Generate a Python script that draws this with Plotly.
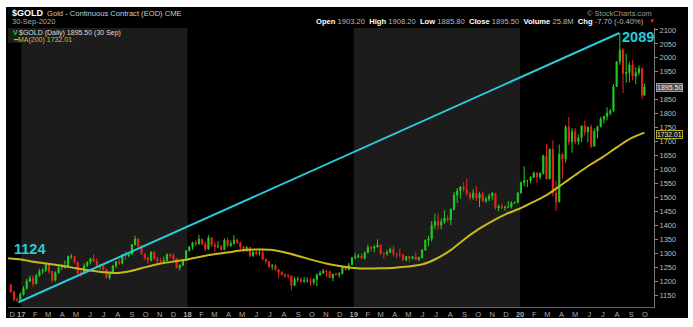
import pandas as pd
import plotly.graph_objects as go

# ---------------- data (weekly bars) ----------------
first_open = 1186
week_dates = list(pd.date_range("2016-12-09", "2020-09-25", freq="7D")) + [pd.Timestamp("2020-09-30")]

close_2016 = [1162, 1134, 1132, 1152]
high_2016 = [1190, 1165, 1141, 1160]
low_2016 = [1158, 1127, 1124, 1128]

close_2017 = [1173, 1200, 1210, 1191, 1220, 1235, 1239, 1258, 1234, 1203, 1230, 1249, 1249, 1254, 1288, 1289,
              1268, 1228, 1228, 1254, 1268, 1280, 1271, 1256, 1257, 1242, 1212, 1228, 1255, 1269, 1264, 1294,
              1291, 1297, 1330, 1351, 1325, 1297, 1284, 1275, 1304, 1280, 1272, 1270, 1274, 1296, 1292, 1280,
              1248, 1257, 1275, 1309]
high_2017 = [1182, 1208, 1219, 1220, 1226, 1244, 1246, 1264, 1263, 1236, 1235, 1259, 1260, 1274, 1292, 1297,
             1290, 1270, 1236, 1264, 1270, 1283, 1296, 1282, 1260, 1260, 1245, 1232, 1257, 1272, 1279, 1296,
             1306, 1300, 1333, 1362, 1352, 1331, 1300, 1285, 1306, 1307, 1286, 1284, 1288, 1299, 1297, 1300,
             1282, 1259, 1278, 1310]
low_2017 = [1148, 1170, 1196, 1180, 1188, 1215, 1225, 1232, 1226, 1195, 1198, 1227, 1240, 1245, 1252, 1278,
            1262, 1225, 1214, 1226, 1250, 1260, 1268, 1252, 1240, 1237, 1210, 1205, 1225, 1247, 1258, 1260,
            1276, 1285, 1294, 1328, 1318, 1293, 1276, 1262, 1270, 1277, 1264, 1264, 1268, 1270, 1281, 1274,
            1245, 1238, 1254, 1273]

close_2018 = [1322, 1338, 1333, 1350, 1333, 1315, 1355, 1330, 1323, 1324, 1313, 1347, 1327, 1335, 1347, 1338,
              1323, 1314, 1320, 1291, 1304, 1298, 1302, 1278, 1270, 1253, 1255, 1241, 1231, 1223, 1220, 1219,
              1184, 1206, 1206, 1199, 1201, 1201, 1196, 1206, 1222, 1229, 1236, 1234, 1212, 1225, 1223, 1226,
              1252, 1241, 1258, 1283]
high_2018 = [1326, 1341, 1346, 1366, 1352, 1342, 1364, 1357, 1340, 1343, 1330, 1353, 1356, 1345, 1365, 1353,
             1340, 1324, 1326, 1321, 1307, 1308, 1309, 1313, 1281, 1272, 1262, 1260, 1243, 1236, 1227, 1226,
             1220, 1215, 1216, 1213, 1215, 1213, 1210, 1210, 1228, 1237, 1244, 1241, 1238, 1226, 1230, 1232,
             1254, 1255, 1265, 1287]
low_2018 = [1306, 1312, 1325, 1330, 1330, 1307, 1312, 1322, 1303, 1318, 1309, 1310, 1322, 1322, 1330, 1332,
            1314, 1302, 1304, 1285, 1286, 1293, 1291, 1276, 1262, 1245, 1239, 1237, 1211, 1220, 1211, 1209,
            1167, 1182, 1197, 1195, 1194, 1195, 1183, 1187, 1182, 1220, 1225, 1216, 1209, 1199, 1218, 1212,
            1226, 1238, 1238, 1258]

close_2019 = [1286, 1290, 1282, 1302, 1320, 1318, 1322, 1329, 1299, 1298, 1303, 1314, 1298, 1295, 1295, 1276,
              1288, 1281, 1287, 1277, 1284, 1311, 1346, 1352, 1400, 1413, 1400, 1412, 1426, 1419, 1457, 1508,
              1523, 1537, 1529, 1515, 1499, 1515, 1497, 1512, 1488, 1494, 1505, 1514, 1462, 1468, 1463, 1465,
              1465, 1481, 1481, 1515]
high_2019 = [1301, 1297, 1299, 1305, 1331, 1325, 1328, 1349, 1333, 1303, 1312, 1320, 1326, 1300, 1316, 1295,
             1290, 1290, 1290, 1303, 1288, 1314, 1349, 1362, 1415, 1442, 1442, 1424, 1453, 1436, 1460, 1519,
             1534, 1541, 1554, 1566, 1518, 1529, 1541, 1520, 1521, 1503, 1513, 1519, 1515, 1474, 1477, 1470,
             1486, 1486, 1486, 1520]
low_2019 = [1278, 1281, 1280, 1276, 1300, 1305, 1303, 1320, 1294, 1281, 1291, 1300, 1288, 1283, 1287, 1273,
            1270, 1267, 1277, 1275, 1271, 1280, 1309, 1325, 1342, 1385, 1384, 1385, 1405, 1412, 1400, 1453,
            1480, 1496, 1520, 1506, 1488, 1491, 1488, 1465, 1484, 1480, 1486, 1490, 1456, 1450, 1457, 1452,
            1461, 1460, 1476, 1480]

close_2020 = [1553, 1560, 1560, 1571, 1587, 1573, 1586, 1649, 1566, 1672, 1516, 1484, 1654, 1637, 1752, 1699,
              1735, 1700, 1713, 1756, 1735, 1751, 1683, 1737, 1753, 1781, 1790, 1802, 1810, 1897, 1986, 2028,
              1944, 1947, 1975, 1934, 1947, 1962, 1866, 1895.5]
high_2020 = [1557, 1611, 1562, 1576, 1593, 1590, 1589, 1653, 1691, 1676, 1704, 1560, 1689, 1660, 1759, 1788,
             1748, 1748, 1725, 1758, 1775, 1753, 1761, 1747, 1757, 1789, 1793, 1823, 1818, 1906, 1986, 2089,
             2035, 2015, 1986, 1992, 1966, 1973, 1966, 1908]
low_2020 = [1515, 1540, 1537, 1550, 1570, 1552, 1564, 1582, 1565, 1566, 1504, 1451, 1482, 1567, 1625, 1687,
            1660, 1691, 1688, 1697, 1722, 1698, 1677, 1683, 1712, 1751, 1765, 1776, 1794, 1807, 1898, 1975,
            1874, 1911, 1912, 1919, 1906, 1937, 1851, 1863]

closes = close_2016 + close_2017 + close_2018 + close_2019 + close_2020
highs = high_2016 + high_2017 + high_2018 + high_2019 + high_2020
lows = low_2016 + low_2017 + low_2018 + low_2019 + low_2020
opens = [first_open] + closes[:-1]

# 200-day moving average
ma_dates = ["2016-12-03", "2017-01-01", "2017-02-01", "2017-03-01", "2017-04-01", "2017-05-01", "2017-06-01",
            "2017-07-01", "2017-08-01", "2017-09-01", "2017-10-01", "2017-11-01", "2017-12-01", "2018-01-01",
            "2018-02-01", "2018-03-01", "2018-04-01", "2018-05-01", "2018-06-01", "2018-07-01", "2018-08-01",
            "2018-09-01", "2018-10-01", "2018-11-01", "2018-12-01", "2019-01-01", "2019-02-01", "2019-03-01",
            "2019-04-01", "2019-05-01", "2019-06-01", "2019-07-01", "2019-08-01", "2019-09-01", "2019-10-01",
            "2019-11-01", "2019-12-01", "2020-01-01", "2020-02-01", "2020-03-01", "2020-04-01", "2020-05-01",
            "2020-06-01", "2020-07-01", "2020-08-01", "2020-09-01", "2020-09-30"]
ma_values = [1282, 1277, 1268, 1262, 1255, 1246, 1238, 1232, 1229, 1237, 1250, 1262, 1270, 1277,
             1288, 1296, 1303, 1310, 1313, 1312, 1303, 1290, 1276, 1263, 1254, 1247, 1245, 1246,
             1248, 1252, 1260, 1280, 1310, 1350, 1385, 1415, 1440, 1460, 1485, 1510, 1545, 1580,
             1615, 1645, 1680, 1712, 1732.01]

trend_dates = ["2016-12-26", "2020-08-06"]
trend_values = [1124, 2089]

shaded_years = [("2017-01-01", "2018-01-01"), ("2019-01-01", "2020-01-01")]

# 1900 is hidden behind the last-price tag in the reference
y_ticks = [1150, 1200, 1250, 1300, 1350, 1400, 1450, 1500, 1550, 1600, 1650, 1700, 1750, 1800, 1850,
           1950, 2000, 2050, 2100]
month_letters = ["J", "F", "M", "A", "M", "J", "J", "A", "S", "O", "N", "D"]
years = [2017, 2018, 2019, 2020]

# ---------------- ticks ----------------
tick_vals = ["2016-12-12"]
tick_text = ["D"]
for yr in years:
    for m in range(12):
        if yr == 2020 and m > 9:
            break
        tick_vals.append(f"{yr}-{m + 1:02d}-01")
        tick_text.append(f"<b>{str(yr)[2:]}</b>" if m == 0 else month_letters[m])

# ---------------- geometry helpers ----------------
L, T, W, H = 8, 28, 646, 279
FIG_W, FIG_H = 693, 327


def fx(px):
    return (px - L) / W


def fy(py):
    return (T + H - py) / H


UP = "#22cc22"
DN = "#e8261e"
CYAN = "#27cdd8"
MA_C = "#c9b81c"
FONT = "Liberation Sans, Arial, sans-serif"

fig = go.Figure()
fig.add_trace(go.Candlestick(
    x=week_dates, open=opens, high=highs, low=lows, close=closes,
    increasing=dict(line=dict(color=UP, width=1), fillcolor=UP),
    decreasing=dict(line=dict(color=DN, width=1), fillcolor=DN),
    whiskerwidth=0, showlegend=False, hoverinfo="skip"))
fig.add_trace(go.Scatter(x=ma_dates, y=ma_values, mode="lines",
                         line=dict(color=MA_C, width=2, shape="spline", smoothing=0.8),
                         showlegend=False, hoverinfo="skip"))
fig.add_trace(go.Scatter(x=trend_dates, y=trend_values, mode="lines",
                         line=dict(color=CYAN, width=2), showlegend=False, hoverinfo="skip"))

shapes = [dict(type="rect", xref="paper", yref="paper", x0=fx(6), x1=fx(688), y0=fy(318), y1=fy(7),
               fillcolor="black", line=dict(width=0), layer="below"),
          dict(type="rect", xref="paper", yref="paper", x0=fx(8), x1=fx(140), y0=fy(43), y1=fy(28),
               fillcolor="#1c1c1c", line=dict(width=0), layer="below")]
for a, b in shaded_years:
    shapes.append(dict(type="rect", xref="x", yref="paper", x0=a, x1=b, y0=0, y1=1,
                       fillcolor="#1c1c1c", line=dict(width=0), layer="below"))

ann = []


def txt(text, px, py, size, color, anchor="left", bold=False):
    ann.append(dict(text=f"<b>{text}</b>" if bold else text, x=fx(px), y=fy(py), xref="paper", yref="paper",
                    xanchor=anchor, yanchor="middle", showarrow=False,
                    font=dict(size=size, color=color, family=FONT)))


txt("$GOLD", 10, 13, 9, "#ffffff", bold=True)
txt("Gold - Continuous Contract (EOD) CME", 45, 13, 7.6, "#cccccc")
txt("30-Sep-2020", 10, 21, 7.5, "#aaaaaa")
txt("© StockCharts.com", 654, 13, 7.5, "#9a9a9a", anchor="right")
ohlc = ("<b>Open</b> <span style='color:#bbbbbb'>1903.20</span>  <b>High</b> <span style='color:#bbbbbb'>1908.20</span>  "
        "<b>Low</b> <span style='color:#bbbbbb'>1885.80</span>  <b>Close</b> <span style='color:#bbbbbb'>1895.50</span>  "
        "<b>Volume</b> <span style='color:#bbbbbb'>25.8M</span>  <b>Chg</b> <span style='color:#bbbbbb'>-7.70 (-0.40%)</span>")
txt(ohlc, 646, 21, 7.6, "#ffffff", anchor="right")
txt("▼", 647, 21, 6, "#ee2222")
txt("<span style='color:#22cc22'>V</span>", 11, 33, 7, "#22cc22", bold=True)
txt("$GOLD (Daily) 1895.50 (30 Sep)", 17, 33, 7, "#dddddd")
txt("━MA(200) 1732.01", 11, 39.5, 7, "#d4c21e")
txt("1124", 12, 248.5, 14.5, CYAN, bold=True)
txt("2089", 620, 37, 14.5, CYAN, bold=True)

ann.append(dict(text="1895.50", x=fx(656), y=fy(87), xref="paper", yref="paper", xanchor="left", yanchor="middle",
                showarrow=False, bgcolor="#4a4a4a", bordercolor="#9a9a9a", borderwidth=1, borderpad=0,
                font=dict(size=7, color="#f2f2f2", family=FONT)))
ann.append(dict(text="1732.01", x=fx(656), y=fy(134), xref="paper", yref="paper", xanchor="left", yanchor="middle",
                showarrow=False, bgcolor="#151515", bordercolor="#b8a61a", borderwidth=1, borderpad=0,
                font=dict(size=6.8, color="#e6e6d0", family=FONT)))

fig.update_layout(
    width=FIG_W, height=FIG_H,
    margin=dict(l=L, r=FIG_W - L - W, t=T, b=FIG_H - T - H, pad=0),
    paper_bgcolor="white", plot_bgcolor="black",
    shapes=shapes, annotations=ann, showlegend=False,
    font=dict(family=FONT),
    xaxis=dict(type="date", range=["2016-12-03", "2020-10-21"], rangeslider=dict(visible=False),
               tickvals=tick_vals, ticktext=tick_text, tickangle=0,
               tickfont=dict(size=7.5, color="#aaaaaa", family=FONT),
               showgrid=False, zeroline=False, showline=True, linecolor="#666666", linewidth=1, ticks=""),
    yaxis=dict(side="right", range=[1107, 2107], tickvals=y_ticks,
               tickfont=dict(size=7.5, color="#bbbbbb", family=FONT),
               showgrid=False, zeroline=False, showline=True, linecolor="#777777", linewidth=1,
               ticks="outside", ticklen=3, tickcolor="#888888"),
)

fig.write_html("out.html")
